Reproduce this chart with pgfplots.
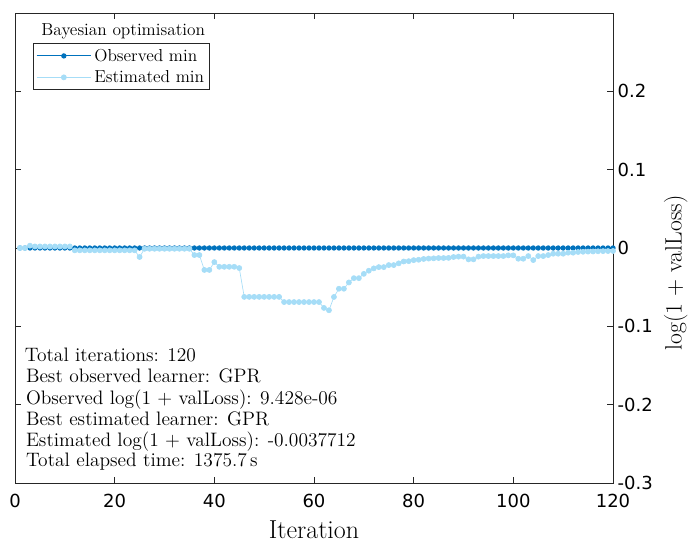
\documentclass[border=0pt]{standalone}
\usepackage{fontspec}
\usepackage{pgfplots}
\pgfplotsset{compat=1.18}
\newfontfamily\ticksans{DejaVu Sans}
\definecolor{obsblue}{RGB}{0,114,189}
\definecolor{estblue}{RGB}{166,221,247}
\definecolor{axgray}{RGB}{38,38,38}

\begin{document}
\begin{tikzpicture}[x=1pt,y=1pt]
% keep the reference's outer frame (688x543 px at 0.75pt/px)
\path[use as bounding box] (-11.25,-45) rectangle (504.75,362.25);
\begin{axis}[
  at={(0,0)}, anchor=south west,
  scale only axis, width=448.5pt, height=352.5pt,
  xmin=0, xmax=120, ymin=-0.3, ymax=0.3,
  xtick={0,20,...,120}, xticklabels={0,20,40,60,80,100,120},
  ytick={-0.3,-0.2,-0.1,0,0.1,0.2},
  yticklabels={-0.3,-0.2,-0.1,0,0.1,0.2},
  yticklabel pos=right,
  tick align=inside, major tick length=4.5pt,
  axis line style={axgray, line width=0.6pt},
  every tick/.style={axgray, line width=0.6pt},
  ticklabel style={font=\ticksans\fontsize{13.5}{16}\selectfont, text=black},
  xticklabel style={yshift=-5pt},
  xlabel={Iteration},
  ylabel={log(1 + valLoss)},
  xlabel style={font=\fontsize{19.5}{23}\selectfont,
    at={(axis description cs:0.5,-0.1)}, anchor=center},
  ylabel style={font=\fontsize{17.7}{21}\selectfont,
    at={(axis description cs:1.105,0.447)}, anchor=center},
  legend style={at={(axis description cs:0.030,0.936)}, anchor=north west,
    draw=axgray, line width=0.6pt, fill=white,
    font=\fontsize{13}{15}\selectfont, inner sep=2pt, row sep=1.5pt},
  legend cell align=left,
  legend image code/.code={%
    \draw[#1, mark repeat=2, mark phase=2]
      plot coordinates {(0pt,0pt) (20.5pt,0pt) (41pt,0pt)};},
  clip=false
]

% Observed min
\addplot[obsblue, line width=0.75pt, mark=*, mark size=1.6pt] coordinates {
(1,0.0000094) (2,0.0000094) (3,0.0000094) (4,0.0000094) (5,0.0000094)
(6,0.0000094) (7,0.0000094) (8,0.0000094) (9,0.0000094) (10,0.0000094)
(11,0.0000094) (12,0.0000094) (13,0.0000094) (14,0.0000094) (15,0.0000094)
(16,0.0000094) (17,0.0000094) (18,0.0000094) (19,0.0000094) (20,0.0000094)
(21,0.0000094) (22,0.0000094) (23,0.0000094) (24,0.0000094) (25,0.0000094)
(26,0.0000094) (27,0.0000094) (28,0.0000094) (29,0.0000094) (30,0.0000094)
(31,0.0000094) (32,0.0000094) (33,0.0000094) (34,0.0000094) (35,0.0000094)
(36,0.0000094) (37,0.0000094) (38,0.0000094) (39,0.0000094) (40,0.0000094)
(41,0.0000094) (42,0.0000094) (43,0.0000094) (44,0.0000094) (45,0.0000094)
(46,0.0000094) (47,0.0000094) (48,0.0000094) (49,0.0000094) (50,0.0000094)
(51,0.0000094) (52,0.0000094) (53,0.0000094) (54,0.0000094) (55,0.0000094)
(56,0.0000094) (57,0.0000094) (58,0.0000094) (59,0.0000094) (60,0.0000094)
(61,0.0000094) (62,0.0000094) (63,0.0000094) (64,0.0000094) (65,0.0000094)
(66,0.0000094) (67,0.0000094) (68,0.0000094) (69,0.0000094) (70,0.0000094)
(71,0.0000094) (72,0.0000094) (73,0.0000094) (74,0.0000094) (75,0.0000094)
(76,0.0000094) (77,0.0000094) (78,0.0000094) (79,0.0000094) (80,0.0000094)
(81,0.0000094) (82,0.0000094) (83,0.0000094) (84,0.0000094) (85,0.0000094)
(86,0.0000094) (87,0.0000094) (88,0.0000094) (89,0.0000094) (90,0.0000094)
(91,0.0000094) (92,0.0000094) (93,0.0000094) (94,0.0000094) (95,0.0000094)
(96,0.0000094) (97,0.0000094) (98,0.0000094) (99,0.0000094) (100,0.0000094)
(101,0.0000094) (102,0.0000094) (103,0.0000094) (104,0.0000094) (105,0.0000094)
(106,0.0000094) (107,0.0000094) (108,0.0000094) (109,0.0000094) (110,0.0000094)
(111,0.0000094) (112,0.0000094) (113,0.0000094) (114,0.0000094) (115,0.0000094)
(116,0.0000094) (117,0.0000094) (118,0.0000094) (119,0.0000094) (120,0.0000094)
};
\addlegendentry{Observed min}

% Estimated min
\addplot[estblue, line width=0.5pt, mark=*, mark size=1.9pt] coordinates {
(1,0.000) (2,0.000) (3,0.003) (4,0.002) (5,0.002)
(6,0.002) (7,0.002) (8,0.002) (9,0.002) (10,0.002)
(11,0.002) (12,-0.003) (13,-0.003) (14,-0.003) (15,-0.003)
(16,-0.003) (17,-0.003) (18,-0.003) (19,-0.003) (20,-0.003)
(21,-0.003) (22,-0.003) (23,-0.003) (24,-0.003) (25,-0.0115)
(26,-0.001) (27,-0.001) (28,-0.001) (29,-0.001) (30,-0.001)
(31,-0.001) (32,-0.001) (33,-0.001) (34,-0.001) (35,-0.001)
(36,-0.009) (37,-0.009) (38,-0.028) (39,-0.028) (40,-0.018)
(41,-0.024) (42,-0.024) (43,-0.024) (44,-0.024) (45,-0.0256)
(46,-0.0624) (47,-0.0624) (48,-0.0624) (49,-0.0624) (50,-0.0624)
(51,-0.0624) (52,-0.0624) (53,-0.0624) (54,-0.069) (55,-0.069)
(56,-0.069) (57,-0.069) (58,-0.069) (59,-0.069) (60,-0.069)
(61,-0.069) (62,-0.0765) (63,-0.0795) (64,-0.0625) (65,-0.052)
(66,-0.052) (67,-0.044) (68,-0.0385) (69,-0.0385) (70,-0.033)
(71,-0.029) (72,-0.026) (73,-0.0244) (74,-0.0244) (75,-0.0218)
(76,-0.0218) (77,-0.0196) (78,-0.0172) (79,-0.0168) (80,-0.0155)
(81,-0.015) (82,-0.014) (83,-0.0135) (84,-0.0132) (85,-0.0128)
(86,-0.0128) (87,-0.0126) (88,-0.0115) (89,-0.011) (90,-0.011)
(91,-0.0145) (92,-0.0145) (93,-0.011) (94,-0.0103) (95,-0.0103)
(96,-0.0103) (97,-0.0103) (98,-0.0103) (99,-0.0094) (100,-0.0094)
(101,-0.0137) (102,-0.0137) (103,-0.0103) (104,-0.0154) (105,-0.0103)
(106,-0.0103) (107,-0.009) (108,-0.0073) (109,-0.0073) (110,-0.0073)
(111,-0.006) (112,-0.006) (113,-0.0051) (114,-0.0048) (115,-0.0046)
(116,-0.0044) (117,-0.0042) (118,-0.004) (119,-0.0039) (120,-0.0038)
};
\addlegendentry{Estimated min}

% legend title
\node[font=\fontsize{13}{15}\selectfont] at (axis description cs:0.181,0.962) {Bayesian optimisation};

% summary text
\begin{scope}[font=\fontsize{14.6}{17}\selectfont]
\node[anchor=base west, inner sep=0pt] at (axis description cs:0.016,0.258) {Total iterations: 120};
\node[anchor=base west, inner sep=0pt] at (axis description cs:0.018,0.2135) {Best observed learner: GPR};
\node[anchor=base west, inner sep=0pt] at (axis description cs:0.018,0.168) {Observed log(1 + valLoss): 9.428e-06};
\node[anchor=base west, inner sep=0pt] at (axis description cs:0.018,0.123) {Best estimated learner: GPR};
\node[anchor=base west, inner sep=0pt] at (axis description cs:0.018,0.0785) {Estimated log(1 + valLoss): -0.0037712};
\node[anchor=base west, inner sep=0pt] at (axis description cs:0.018,0.036) {Total elapsed time: 1375.7\,s};
\end{scope}

\end{axis}
\end{tikzpicture}
\end{document}
